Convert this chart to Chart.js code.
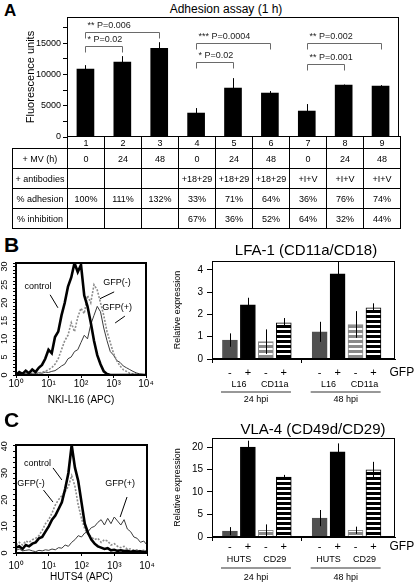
<!DOCTYPE html>
<html><head><meta charset="utf-8">
<script src="https://cdn.jsdelivr.net/npm/chart.js@4.4.0/dist/chart.umd.min.js"></script>
<style>
html,body{margin:0;padding:0;background:#fff;}
body{width:416px;height:584px;position:relative;overflow:hidden;font-family:"Liberation Sans",Arial,sans-serif;color:#000;}
canvas{position:absolute;}
.t{position:absolute;white-space:nowrap;line-height:1;transform:translate(-50%,-50%);}
.letter{position:absolute;font-weight:bold;line-height:1;}
table{position:absolute;border-collapse:collapse;font-size:9px;table-layout:fixed;}
td{border:1px solid #000;text-align:center;padding:0;vertical-align:middle;overflow:hidden;white-space:nowrap;}
</style></head><body>

<div class="letter" style="left:4px;top:2px;font-size:17px;">A</div>
<div class="t" style="left:226px;top:9px;font-size:12px;">Adhesion assay (1 h)</div>
<canvas id="cA" width="416" height="140" style="left:0;top:0;"></canvas>
<table id="tA" style="left:12px;top:136px;width:388px;"></table>

<div class="letter" style="left:4px;top:234px;font-size:21px;">B</div>
<div class="t" style="left:306px;top:249px;font-size:15px;">LFA-1 (CD11a/CD18)</div>
<canvas id="cBh" width="165" height="155" style="left:0;top:255px;"></canvas>
<canvas id="cBb" width="246" height="155" style="left:170px;top:255px;"></canvas>

<div class="letter" style="left:4px;top:409px;font-size:21px;">C</div>
<div class="t" style="left:313px;top:428px;font-size:15px;">VLA-4 (CD49d/CD29)</div>
<canvas id="cCh" width="165" height="147" style="left:0;top:437px;"></canvas>
<canvas id="cCb" width="246" height="152" style="left:170px;top:432px;"></canvas>

<script>
// ---------------- DATA ----------------
// Panel A
const lanes = ['1','2','3','4','5','6','7','8','9'];
const adhesion = [10860, 11980, 14200, 3830, 7830, 7030, 4150, 8300, 8150];
const adhesionErr = [640, 960, 970, 800, 1590, 320, 1120, 100, 150];
const yTicksA = [0, 2500, 5000, 7500, 10000, 12500, 15000, 17500];
const mvHours = ['0','24','48','0','24','48','0','24','48'];
const antibodies = ['','','','+18+29','+18+29','+18+29','+I+V','+I+V','+I+V'];
const pctAdhesion = ['100%','111%','132%','33%','71%','64%','36%','76%','74%'];
const pctInhibition = ['','','','67%','36%','52%','64%','32%','44%'];
const rowLabels = ['+ MV (h)','+ antibodies','% adhesion','% inhibition'];
const bracketFrom = [0, 0, 3, 3, 6, 6];
const bracketTo = [2, 1, 5, 4, 8, 7];
const bracketLevel = [16770, 14540, 15015, 11980, 15015, 11660];
const bracketText = ['** P=0.006','* P=0.02','*** P=0.0004','* P=0.02','** P=0.002','** P=0.001'];

// Histograms (x = decade of fluorescence, 10^x)
const decades = [0,0.1,0.2,0.3,0.4,0.5,0.6,0.7,0.8,0.9,1,1.1,1.2,1.3,1.4,1.5,1.6,1.7,1.8,1.9,2,2.1,2.2,2.3,2.4,2.5,2.6,2.7,2.8,2.9,3,3.1,3.2,3.3,3.4,3.5,3.6,3.7,3.8,3.9,4];
const decadeLabels = ['10\u2070','10\u00b9','10\u00b2','10\u00b3','10\u2074'];
const nkiControl = [0,0.8,0.3,1.2,0.5,1.5,0.8,2.0,2.8,4.5,7.0,6.0,10.5,12.0,16.5,20.0,24.5,27.0,31.0,28.5,30.5,22.0,19.0,14.5,9.5,5.5,3.0,1.0,0.3,0,0,0,0,0,0,0,0,0,0,0,0];
const nkiGfpNeg = [0.3,0,0.5,0.2,0.4,0.2,0.6,0.5,0.8,1.0,1.5,2.0,3.0,4.5,7.0,9.5,11.0,14.5,12.0,16.0,18.5,17.0,22.0,20.0,25.0,23.5,20.0,16.5,12.0,9.0,6.0,4.0,2.5,1.5,1.0,0.5,0.3,0.2,0,0,0];
const nkiGfpPos = [0.2,0.5,0.2,0.4,0.3,0.5,0.3,0.6,0.5,0.8,0.7,1.0,1.2,1.8,2.5,3.0,4.5,5.0,6.5,7.0,9.0,11.0,10.0,14.0,16.5,19.0,17.5,13.0,9.5,6.5,5.5,4.0,3.5,2.5,2.0,1.5,1.0,0.6,0.3,0.2,0];
const hutsControl = [2.0,2.5,1.5,3.0,2.5,3.5,4.0,5.5,6.0,8.0,10.0,12.5,14.0,16.5,19.0,24.0,30.0,40.5,32.0,27.0,19.0,11.0,7.5,5.0,3.5,2.5,2.0,1.5,1.8,1.0,1.2,0.8,1.0,0.7,0.8,0.5,0.7,0.5,0.6,0.4,0.5];
const hutsGfpNeg = [3.0,4.0,3.0,4.5,4.0,5.0,5.5,6.5,8.5,11.0,12.5,15.0,18.0,20.0,21.5,23.0,25.0,29.0,25.0,18.0,13.0,9.0,7.0,6.0,5.0,5.5,4.0,5.0,4.5,3.0,3.5,2.5,2.0,2.5,1.5,1.5,1.0,1.2,0.8,1.0,0.8];
const hutsGfpPos = [1.0,1.5,0.8,1.0,1.2,0.8,0.5,1.0,0.8,1.2,1.0,1.5,1.2,2.0,1.8,3.0,2.5,4.0,5.0,6.5,6.0,7.5,8.0,9.5,10.0,11.5,12.5,10.5,13.0,11.0,13.5,12.0,10.5,12.5,9.0,8.0,6.0,5.5,4.0,4.5,3.0];
const histLabelsB = [0,5,10,15,20,25,30];
const histLabelsC = [0,10,20,30,40];

// Bar charts (two time points x four bars)
const hpiGroups = ['24 hpi','48 hpi'];
const gfpSigns = ['-','+','-','+'];
const lfaMarkers = ['L16','CD11a'];
const lfaValues = [[0.85,2.43,0.78,1.62],[1.22,3.82,1.55,2.30]];
const lfaErrors = [[0.3,0.32,0.55,0.22],[0.45,0.55,0.6,0.2]];
const lfaTicks = [0,1,2,3,4];
const vlaMarkers = ['HUTS','CD29'];
const vlaValues = [[1.3,20.0,1.5,13.3],[4.2,18.9,1.5,14.9]];
const vlaErrors = [[0.9,1.4,1.3,0.5],[1.8,1.9,0.8,1.8]];
const vlaTicks = [0,5,10,15,20];

// ---------------- HELPERS ----------------
Chart.defaults.font.family = '"Liberation Sans", Arial, sans-serif';
Chart.defaults.color = '#000';
Chart.defaults.animation = false;

function stripes(color){
  const c = document.createElement('canvas'); c.width = 4; c.height = 5;
  const g = c.getContext('2d');
  g.fillStyle = '#fff'; g.fillRect(0,0,4,5);
  g.fillStyle = color; g.fillRect(0,0,4,3);
  return g.createPattern(c,'repeat');
}

const framePlugin = {
  id:'frame',
  afterDraw(chart, args, opts){
    const {ctx, chartArea:a} = chart;
    const w = opts.width || 1;
    ctx.save(); ctx.strokeStyle = '#000'; ctx.lineWidth = w;
    const o = (w % 2) ? 0.5 : 0;
    ctx.strokeRect(Math.round(a.left)+o, Math.round(a.top)+o, Math.round(a.right-a.left)-2*o, Math.round(a.bottom-a.top)-2*o);
    ctx.restore();
  }
};

const errorPlugin = {
  id:'errorBars',
  afterDatasetsDraw(chart){
    const ctx = chart.ctx, ys = chart.scales.y;
    chart.data.datasets.forEach((ds, di) => {
      if (!ds.errors) return;
      const meta = chart.getDatasetMeta(di);
      meta.data.forEach((bar, i) => {
        const d = ds.data[i]; const v = (typeof d === 'object') ? d.y : d; const e = ds.errors[i];
        const x = Math.round(bar.x) + 0.5;
        ctx.save(); ctx.strokeStyle = '#000'; ctx.lineWidth = 1;
        ctx.beginPath(); ctx.moveTo(x, ys.getPixelForValue(v + e)); ctx.lineTo(x, ys.getPixelForValue(Math.max(0, v - e))); ctx.stroke();
        ctx.restore();
      });
    });
  }
};

const bracketPlugin = {
  id:'brackets',
  afterDraw(chart){
    const ctx = chart.ctx, xs = chart.scales.x, ys = chart.scales.y;
    ctx.save();
    ctx.strokeStyle = '#6a6a6a'; ctx.lineWidth = 1;
    ctx.fillStyle = '#222'; ctx.font = '9px "Liberation Sans", Arial, sans-serif';
    ctx.textBaseline = 'middle'; ctx.textAlign = 'left';
    bracketText.forEach((t, i) => {
      const x1 = Math.round(xs.getPixelForValue(bracketFrom[i])) + 0.5;
      const x2 = Math.round(xs.getPixelForValue(bracketTo[i])) + 0.5;
      const y = Math.round(ys.getPixelForValue(bracketLevel[i])) + 0.5;
      ctx.beginPath(); ctx.moveTo(x1, y + 6); ctx.lineTo(x1, y); ctx.lineTo(x2, y); ctx.lineTo(x2, y + 6); ctx.stroke();
      ctx.fillText(t, x1 + 2, y - 7);
    });
    ctx.restore();
  }
};

const rotYPlugin = {
  id:'rotY',
  afterDraw(chart, args, opts){
    const ctx = chart.ctx, ys = chart.scales.y;
    ctx.save(); ctx.fillStyle = '#000'; ctx.font = '9px "Liberation Sans", Arial, sans-serif';
    ctx.textAlign = 'center'; ctx.textBaseline = 'middle';
    opts.values.forEach(v => {
      ctx.save(); ctx.translate(chart.chartArea.left - 11, ys.getPixelForValue(v)); ctx.rotate(-Math.PI/2);
      ctx.fillText(String(v), 0, 0); ctx.restore();
    });
    ctx.restore();
  }
};

const notePlugin = {
  id:'notes',
  afterDraw(chart, args, opts){
    const ctx = chart.ctx, xs = chart.scales.x, ys = chart.scales.y;
    ctx.save(); ctx.fillStyle = '#000'; ctx.strokeStyle = '#000'; ctx.lineWidth = 1;
    ctx.font = '9px "Liberation Sans", Arial, sans-serif'; ctx.textAlign = 'center'; ctx.textBaseline = 'middle';
    opts.items.forEach(n => {
      ctx.fillText(n.text, xs.getPixelForValue(n.at[0]), ys.getPixelForValue(n.at[1]));
      ctx.beginPath();
      ctx.moveTo(xs.getPixelForValue(n.line[0]), ys.getPixelForValue(n.line[1]));
      ctx.lineTo(xs.getPixelForValue(n.line[2]), ys.getPixelForValue(n.line[3]));
      ctx.stroke();
    });
    ctx.restore();
  }
};

const barLabelPlugin = {
  id:'barLabels',
  afterDraw(chart, args, opts){
    const ctx = chart.ctx, xs = chart.scales.x, b = chart.chartArea.bottom;
    ctx.save(); ctx.fillStyle = '#000'; ctx.textAlign = 'center'; ctx.textBaseline = 'middle';
    hpiGroups.forEach((g, gi) => {
      ctx.font = '11px "Liberation Sans", Arial, sans-serif';
      gfpSigns.forEach((s, k) => ctx.fillText(s, xs.getPixelForValue(gi*5 + k + 1), b + opts.signDy));
      ctx.font = '9px "Liberation Sans", Arial, sans-serif';
      opts.markers.forEach((m, mi) => ctx.fillText(m, xs.getPixelForValue(gi*5 + mi*2 + 1.5), b + opts.markDy));
      const xa = xs.getPixelForValue(gi*5 + 0.5), xb = xs.getPixelForValue(gi*5 + 4.4);
      ctx.strokeStyle = '#333'; ctx.lineWidth = 1.2;
      ctx.beginPath(); ctx.moveTo(xa, b + opts.lineDy); ctx.lineTo(xb, b + opts.lineDy); ctx.stroke();
      ctx.fillText(g, (xa + xb) / 2, b + opts.hpiDy);
    });
    ctx.font = '12px "Liberation Sans", Arial, sans-serif'; ctx.textAlign = 'left';
    ctx.fillText('GFP', xs.getPixelForValue(9) + 16, b + opts.signDy);
    ctx.restore();
  }
};

function zeroPad(s){ s.paddingLeft = 0; s.paddingRight = 0; s.paddingTop = 0; s.paddingBottom = 0; }

// ---------------- PANEL A ----------------
new Chart(document.getElementById('cA'), {
  type:'bar',
  data:{ labels: lanes, datasets:[{ data: adhesion, errors: adhesionErr, backgroundColor:'#000', barThickness:17 }] },
  options:{
    responsive:false,
    layout:{ padding:{ top:17, right:17, bottom:3, left:0 } },
    plugins:{ legend:{display:false}, tooltip:{enabled:false}, frame:{width:1} },
    scales:{
      x:{ display:false },
      y:{ min:0, max:19200,
          afterBuildTicks(s){ s.ticks = yTicksA.map(v => ({value:v})); },
          afterFit(s){ s.width = 67; zeroPad(s); },
          ticks:{ font:{size:9}, color:'#000', padding:2, callback:(v) => (v % 5000 === 0 ? String(v) : '') },
          grid:{ drawOnChartArea:false, color:'#000', tickLength:4 },
          border:{ color:'#000' },
          title:{ display:true, text:'Fluorescence units', font:{size:11}, color:'#000', padding:{top:24, bottom:0} }
      }
    }
  },
  plugins:[framePlugin, errorPlugin, bracketPlugin]
});

// table built from arrays
(function(){
  const t = document.getElementById('tA');
  const cg = document.createElement('colgroup');
  [55].concat(lanes.map(() => 37)).forEach(w => { const c = document.createElement('col'); c.style.width = w + 'px'; cg.appendChild(c); });
  t.appendChild(cg);
  const rows = [[''].concat(lanes)];
  const vals = [mvHours, antibodies, pctAdhesion, pctInhibition];
  rowLabels.forEach((l, i) => rows.push([l].concat(vals[i])));
  rows.forEach((r, ri) => {
    const tr = document.createElement('tr'); tr.style.height = (ri === 0 ? 12 : 20) + 'px';
    r.forEach((c, ci) => {
      const td = document.createElement('td'); td.textContent = c;
      if (ri === 0 && ci === 0) td.style.border = 'none';
      tr.appendChild(td);
    });
    t.appendChild(tr);
  });
})();

// ---------------- HISTOGRAMS ----------------
function histogram(id, series, yMax, step, labelValues, xTitle, titlePad, tickPad, areaTop, rightPad, xHeight, notes){
  const styles = [
    { label:'control', borderColor:'#000', borderWidth:2.6 },
    { label:'GFP(-)', borderColor:'#8c8c8c', borderWidth:1.6, borderDash:[2,1.5] },
    { label:'GFP(+)', borderColor:'#3a3a3a', borderWidth:1 }
  ];
  new Chart(document.getElementById(id), {
    type:'line',
    data:{ datasets: series.map((s, i) => Object.assign({ data: decades.map((d, j) => ({x:d, y:s[j]})), pointRadius:0, tension:0, fill:false }, styles[i])) },
    options:{
      responsive:false,
      layout:{ padding:{ top:areaTop, right:rightPad, bottom:0, left:0 } },
      plugins:{ legend:{display:false}, tooltip:{enabled:false}, frame:{width:2}, rotY:{values:labelValues}, notes:{items:notes} },
      scales:{
        x:{ type:'linear', min:0, max:4, offset:false,
            afterBuildTicks(s){ s.ticks = decadeLabels.map((l, i) => ({value:i})); },
            afterFit(s){ s.height = xHeight; zeroPad(s); },
            ticks:{ font:{size:10}, padding:tickPad, maxRotation:0, callback:(v, i) => decadeLabels[i] },
            grid:{ drawOnChartArea:false, color:'#000', tickLength:3 },
            border:{ display:false },
            title:{ display:true, text:xTitle, font:{size:10}, padding:{top:0, bottom:titlePad} }
        },
        y:{ min:0, max:yMax, ticks:{ display:false, stepSize:step },
            afterFit(s){ s.width = 16; zeroPad(s); },
            grid:{ drawOnChartArea:false, color:'#000', tickLength:3 },
            border:{ display:false }
        }
      }
    },
    plugins:[framePlugin, rotYPlugin, notePlugin]
  });
}

histogram('cBh', [nkiControl, nkiGfpNeg, nkiGfpPos], 31, 1, histLabelsB, 'NKI-L16 (APC)', 4, 0, 8, 19, 35, [
  { text:'control', at:[0.68, 24.4], line:[1.05, 22.2, 1.29, 18.6] },
  { text:'GFP(-)', at:[3.11, 25.5], line:[2.58, 21.1, 3.02, 23.0] },
  { text:'GFP(+)', at:[3.11, 18.8], line:[3.05, 14.4, 3.35, 16.3] }
]);
histogram('cCh', [hutsControl, hutsGfpNeg, hutsGfpPos], 40.5, 2, histLabelsC, 'HUTS4 (APC)', 1, 4, 8, 18, 31, [
  { text:'control', at:[0.66, 33.4], line:[1.13, 31.9, 1.40, 27.4] },
  { text:'GFP(-)', at:[0.46, 26.2], line:[0.84, 23.6, 1.13, 19.1] },
  { text:'GFP(+)', at:[3.18, 26.2], line:[3.39, 21.0, 3.18, 13.5] }
]);

// ---------------- BAR CHARTS ----------------
function expressionChart(id, values, errors, yMax, yTicks, markers, xHeight, lab){
  const fills = ['#505050', '#000', stripes('#8a8a8a'), stripes('#000')];
  const borders = ['#505050', '#000', '#8a8a8a', '#000'];
  const pts = [], bg = [], bc = [], errs = [];
  hpiGroups.forEach((g, gi) => values[gi].forEach((v, k) => {
    pts.push({ x: gi*5 + k + 1, y: v }); bg.push(fills[k]); bc.push(borders[k]); errs.push(errors[gi][k]);
  }));
  new Chart(document.getElementById(id), {
    type:'bar',
    data:{ datasets:[{ data: pts, errors: errs, backgroundColor: bg, borderColor: bc, borderWidth:1, barThickness:15 }] },
    options:{
      responsive:false,
      layout:{ padding:{ top:6, right:21, bottom:0, left:0 } },
      plugins:{ legend:{display:false}, tooltip:{enabled:false}, frame:{width:1}, barLabels:Object.assign({markers}, lab) },
      scales:{
        x:{ type:'linear', min:0, max:10.2, offset:false,
            afterBuildTicks(s){ s.ticks = [{value:0},{value:5}]; },
            afterFit(s){ s.height = xHeight; zeroPad(s); },
            ticks:{ display:false },
            grid:{ drawOnChartArea:false, offset:false, color:'#000', tickLength:4 },
            border:{ color:'#000' }
        },
        y:{ min:0, max:yMax,
            afterBuildTicks(s){ s.ticks = yTicks.map(v => ({value:v})); },
            afterFit(s){ s.width = 42; zeroPad(s); },
            ticks:{ font:{size:10}, padding:4 },
            grid:{ drawOnChartArea:false, color:'#000', tickLength:5 },
            border:{ color:'#000' },
            title:{ display:true, text:'Relative expression', font:{size:9}, padding:{top:2, bottom:0} }
        }
      }
    },
    plugins:[framePlugin, errorPlugin, barLabelPlugin]
  });
}

expressionChart('cBb', lfaValues, lfaErrors, 4.4, lfaTicks, lfaMarkers, 51, { signDy:14, markDy:26, lineDy:33, hpiDy:41 });
expressionChart('cCb', vlaValues, vlaErrors, 22, vlaTicks, vlaMarkers, 47, { signDy:10, markDy:23, lineDy:31, hpiDy:41 });
</script>
</body></html>
